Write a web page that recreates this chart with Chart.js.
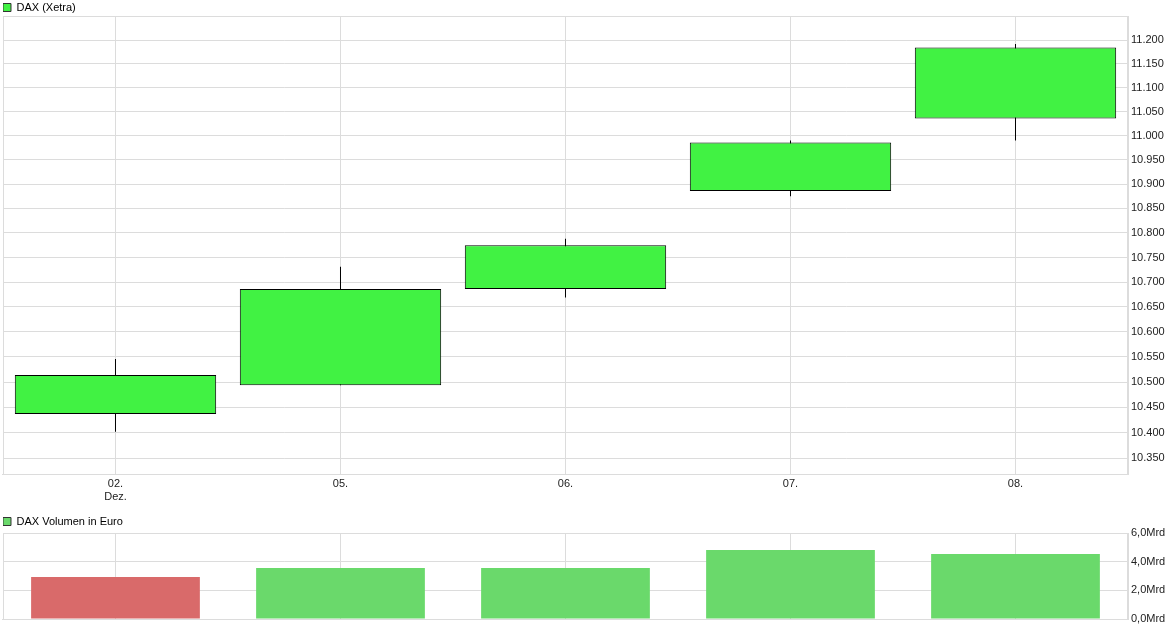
<!DOCTYPE html>
<html>
<head>
<meta charset="utf-8">
<script src="https://cdn.jsdelivr.net/npm/chart.js@4/dist/chart.umd.min.js"></script>
<style>
  html, body { margin: 0; padding: 0; background: #fff; }
  #wrap { position: relative; width: 1174px; height: 631px; }
  canvas { position: absolute; left: 0; }
  #priceCanvas { top: 0; }
  #volCanvas { top: 514px; }
</style>
</head>
<body>
<div id="wrap">
  <canvas id="priceCanvas" width="1174" height="514"></canvas>
  <canvas id="volCanvas" width="1174" height="117"></canvas>
</div>
<script>
// trading days (x axis)
const dayLabels = [['02.', 'Dez.'], '05.', '06.', '07.', '08.'];

// DAX (Xetra) daily candles
const openVals  = [10437, 10494, 10686, 10886, 11036];
const closeVals = [10514, 10686, 10775, 10986, 11185];
const highVals  = [10546, 10731, 10788, 10990, 11192];
const lowVals   = [10402, 10494, 10669, 10875, 10990];

// volume in Mrd Euro, and whether the bar is drawn green
const volumeVals = [2.93, 3.56, 3.56, 4.81, 4.54];
const volumeUp   = [false, true, true, true, true];

// axis ticks
const priceTicks = [10350, 10400, 10450, 10500, 10550, 10600, 10650, 10700, 10750,
                    10800, 10850, 10900, 10950, 11000, 11050, 11100, 11150, 11200];
const volumeTicks = [0, 2, 4, 6];

const CANDLE_GREEN = '#41f243';
const VOL_GREEN = '#6ad96b';
const VOL_RED = '#d96a6a';
const GRID = '#dcdcdc';
const TEXT = '#222';

Chart.defaults.font.family = '"Liberation Sans", Arial, sans-serif';
Chart.defaults.font.size = 11;
Chart.defaults.color = TEXT;

function fmtPrice(v) {
  const t = Math.floor(v / 1000);
  return t + '.' + String(Math.round(v - t * 1000)).padStart(3, '0');
}

// thin frame round the plot area, like the original
const framePlugin = {
  id: 'frame',
  beforeDatasetsDraw(chart) {
    const a = chart.chartArea;
    const ctx = chart.ctx;
    ctx.save();
    ctx.strokeStyle = GRID;
    ctx.lineWidth = 1;
    ctx.strokeRect(Math.round(a.left) + 0.5, Math.round(a.top) + 0.5,
                   Math.round(a.right - a.left) - 1, Math.round(a.bottom - a.top));
    ctx.restore();
  }
};

function legendItem(text, fill) {
  return () => [{ text, fillStyle: fill, strokeStyle: '#333', lineWidth: 1, hidden: false, datasetIndex: 0 }];
}

// left padding a hair under 3 so category centres, grid lines and 1px wicks share a pixel
const LEFT = 2.99;

const priceChart = new Chart(document.getElementById('priceCanvas'), {
  type: 'bar',
  data: {
    labels: dayLabels,
    datasets: [
      {
        label: 'DAX (Xetra)',
        data: openVals.map((o, i) => [o, closeVals[i]]),
        backgroundColor: CANDLE_GREEN,
        borderColor: '#000',
        borderWidth: 1,
        borderSkipped: false,
        grouped: false,
        categoryPercentage: 1,
        barPercentage: 0.895,
        order: 1
      },
      {
        label: 'wick',
        data: lowVals.map((l, i) => [l, highVals[i]]),
        backgroundColor: '#000',
        borderWidth: 0,
        inflateAmount: 0,
        grouped: false,
        barThickness: 1,
        order: 2
      }
    ]
  },
  options: {
    responsive: false,
    animation: false,
    layout: { padding: { left: LEFT, right: 0, top: 2, bottom: 0 } },
    plugins: {
      tooltip: { enabled: false },
      legend: {
        position: 'top',
        align: 'start',
        maxHeight: 14,
        labels: {
          boxWidth: 8,
          boxHeight: 8,
          padding: 0,
          color: TEXT,
          generateLabels: legendItem('DAX (Xetra)', CANDLE_GREEN)
        },
        onClick: null
      }
    },
    scales: {
      x: {
        offset: true,
        grid: { color: GRID, offset: false, drawTicks: false },
        border: { color: GRID },
        ticks: { padding: 3, maxRotation: 0, color: TEXT },
        afterFit: s => { s.height = 40; }
      },
      y: {
        type: 'logarithmic',
        position: 'right',
        min: 10319.4,
        max: 11251.5,
        grid: { color: GRID, drawTicks: false },
        border: { color: GRID },
        ticks: { padding: 3, autoSkip: false, color: TEXT, callback: v => fmtPrice(v) },
        afterBuildTicks: s => { s.ticks = priceTicks.map(v => ({ value: v })); },
        afterFit: s => { s.width = 46; }
      }
    }
  },
  plugins: [framePlugin]
});

const volChart = new Chart(document.getElementById('volCanvas'), {
  type: 'bar',
  data: {
    labels: dayLabels,
    datasets: [{
      label: 'DAX Volumen in Euro',
      data: volumeVals,
      backgroundColor: volumeUp.map(u => u ? VOL_GREEN : VOL_RED),
      borderWidth: 0,
      inflateAmount: 0,
      categoryPercentage: 1,
      barPercentage: 0.75
    }]
  },
  options: {
    responsive: false,
    animation: false,
    layout: { padding: { left: LEFT, right: 0, top: 2, bottom: 0 } },
    plugins: {
      tooltip: { enabled: false },
      legend: {
        position: 'top',
        align: 'start',
        maxHeight: 17,
        labels: {
          boxWidth: 8,
          boxHeight: 8,
          padding: 0,
          color: TEXT,
          generateLabels: legendItem('DAX Volumen in Euro', VOL_GREEN)
        },
        onClick: null
      }
    },
    scales: {
      x: {
        offset: true,
        grid: { color: GRID, offset: false, drawTicks: false },
        border: { color: GRID },
        ticks: { display: false },
        afterFit: s => { s.height = 12; }
      },
      y: {
        position: 'right',
        min: 0,
        max: 6,
        grid: { color: GRID, drawTicks: false },
        border: { color: GRID },
        ticks: {
          padding: 3,
          color: TEXT,
          callback: v => v.toFixed(1).replace('.', ',') + 'Mrd'
        },
        afterBuildTicks: s => { s.ticks = volumeTicks.map(v => ({ value: v })); },
        afterFit: s => { s.width = 46; }
      }
    }
  },
  plugins: [framePlugin]
});
</script>
</body>
</html>
